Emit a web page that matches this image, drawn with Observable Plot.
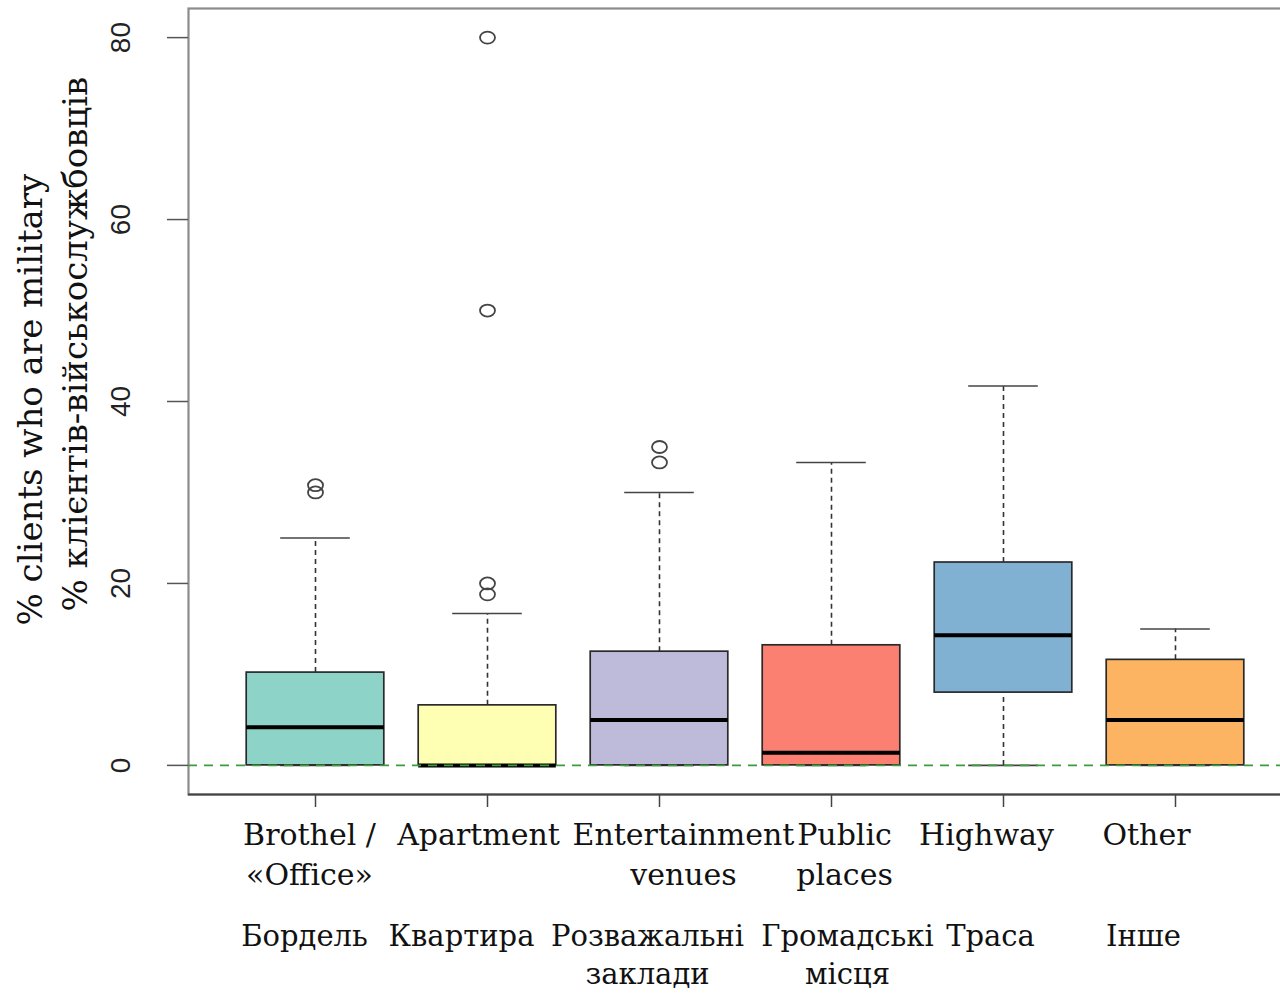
<!DOCTYPE html>
<html>
<head>
<meta charset="utf-8">
<script src="https://cdn.jsdelivr.net/npm/d3@7"></script>
<script src="https://cdn.jsdelivr.net/npm/@observablehq/plot@0.6"></script>
<style>
  html, body { margin: 0; padding: 0; background: #fff; overflow: hidden; }
  #chart svg { display: block; }
</style>
</head>
<body>
<div id="chart"></div>
<script>
// Share of clients who are military, by place of work
const categories = ["Brothel", "Apartment", "Entertainment", "Public", "Highway", "Other"];
const labelsEn = ["Brothel /\n«Office»", "Apartment", "Entertainment\nvenues", "Public\nplaces", "Highway", "Other"];
const labelsUk = ["Бордель", "Квартира", "Розважальні\nзаклади", "Громадські\nмісця", "Траса", "Інше"];

// Five-number summaries per category (percent)
const whiskerLow  = [0, 0, 0, 0, 0, 0];
const quartile1   = [0, 0, 0, 0, 8, 0];
const median      = [4.2, 0, 5, 1.4, 14.3, 5];
const quartile3   = [10.2, 6.6, 12.5, 13.2, 22.3, 11.6];
const whiskerHigh = [25, 16.7, 30, 33.3, 41.7, 15];

// Outlying observations
const outlierCategory = ["Brothel", "Brothel", "Apartment", "Apartment", "Apartment", "Apartment", "Entertainment", "Entertainment"];
const outlierValue    = [30, 30.8, 18.8, 20, 50, 80, 33.3, 35];

const yTicks = [0, 20, 40, 60, 80];
const boxFill = ["#8DD3C7", "#FFFFB3", "#BEBADA", "#FB8072", "#80B1D3", "#FDB462"];

// Horizontal nudges of the hand-placed category captions (px)
const enShift = [-6, -9, 24, 13, -17, -29];
const ukShift = [-11, -26, -12, 16, -13, -32];

const boxes = categories.map((cat, i) => ({
  cat, lo: whiskerLow[i], q1: quartile1[i], med: median[i], q3: quartile3[i], hi: whiskerHigh[i], fill: boxFill[i]
}));
const outliers = outlierCategory.map((cat, i) => ({cat, v: outlierValue[i]}));

const serif = "'DejaVu Serif', serif";
const sans = "'Liberation Sans', Arial, sans-serif";

// open oval marker for outliers
const oval = {
  draw(ctx, size) {
    const r = Math.sqrt(size / Math.PI);
    const rx = r * 1.25, ry = r, k = 0.5523;
    ctx.moveTo(rx, 0);
    ctx.bezierCurveTo(rx, ry * k, rx * k, ry, 0, ry);
    ctx.bezierCurveTo(-rx * k, ry, -rx, ry * k, -rx, 0);
    ctx.bezierCurveTo(-rx, -ry * k, -rx * k, -ry, 0, -ry);
    ctx.bezierCurveTo(rx * k, -ry, rx, -ry * k, rx, 0);
    ctx.closePath();
  }
};

const whiskerStyle = {stroke: "#333", strokeWidth: 1.6, strokeDasharray: "5,4"};
const capStyle = {stroke: "#444", strokeWidth: 1.6, insetLeft: 34, insetRight: 34};

const captionMarks = [];
categories.forEach((c, i) => {
  captionMarks.push(Plot.text([c], {
    x: d => d, text: () => labelsEn[i], frameAnchor: "bottom", dx: enShift[i], dy: 23,
    lineAnchor: "top", lineHeight: 1.31, fontSize: 30, fontFamily: serif, fill: "#111"
  }));
  captionMarks.push(Plot.text([c], {
    x: d => d, text: () => labelsUk[i], frameAnchor: "bottom", dx: ukShift[i], dy: 125,
    lineAnchor: "top", lineHeight: 1.31, fontSize: 29, fontFamily: serif, fill: "#111"
  }));
});

const chart = Plot.plot({
  width: 1280,
  height: 994,
  marginLeft: 188,
  marginRight: -22,
  marginTop: 8,
  marginBottom: 200,
  style: {background: "white"},
  x: {type: "band", domain: categories, paddingInner: 0.2, paddingOuter: 0.3384, round: false, axis: null},
  y: {domain: [-3.2, 83.2], axis: null},
  color: {type: "identity"},
  marks: [
    Plot.frame({stroke: "#8c8c8c", strokeWidth: 2.2}),
    Plot.ruleY([-3.2], {stroke: "#444", strokeWidth: 2}),
    Plot.axisY({ticks: yTicks, tickSize: 21, tickFormat: () => "", label: null, stroke: "#555", strokeWidth: 1.5}),
    Plot.axisX({tickSize: 13, tickFormat: () => "", label: null, stroke: "#444", strokeWidth: 1.5}),
    Plot.text(yTicks, {
      y: d => d, text: d => String(d), frameAnchor: "left", dx: -67, rotate: -90,
      textAnchor: "middle", lineAnchor: "middle", fontSize: 28, fontFamily: sans, fill: "#222"
    }),
    // whiskers and staples
    Plot.ruleX(boxes, {x: "cat", y1: "lo", y2: "q1", ...whiskerStyle}),
    Plot.ruleX(boxes, {x: "cat", y1: "q3", y2: "hi", ...whiskerStyle}),
    Plot.tickY(boxes, {x: "cat", y: "lo", ...capStyle}),
    Plot.tickY(boxes, {x: "cat", y: "hi", ...capStyle}),
    // interquartile boxes and medians
    Plot.barY(boxes, {x: "cat", y1: "q1", y2: "q3", fill: "fill", stroke: "#2a2a2a", strokeWidth: 1.7}),
    Plot.tickY(boxes, {x: "cat", y: "med", stroke: "#000", strokeWidth: 4}),
    // zero reference line
    Plot.ruleY([0], {stroke: "#3f9a3f", strokeWidth: 1.8, strokeDasharray: "9,7"}),
    // outliers
    Plot.dot(outliers, {x: "cat", y: "v", r: 6, symbol: oval, fill: "none", stroke: "#444", strokeWidth: 1.8}),
    // axis title (two languages)
    Plot.text(["% clients who are military"], {
      text: d => d, frameAnchor: "bottom-left", dx: -147, dy: -169, rotate: -90,
      textAnchor: "start", lineAnchor: "bottom", fontSize: 34, fontFamily: serif, fill: "#111"
    }),
    Plot.text(["% клієнтів-військослужбовців"], {
      text: d => d, frameAnchor: "bottom-left", dx: -102, dy: -183, rotate: -90,
      textAnchor: "start", lineAnchor: "bottom", fontSize: 34, fontFamily: serif, fill: "#111"
    }),
    ...captionMarks
  ]
});

document.getElementById("chart").append(chart);
</script>
</body>
</html>
